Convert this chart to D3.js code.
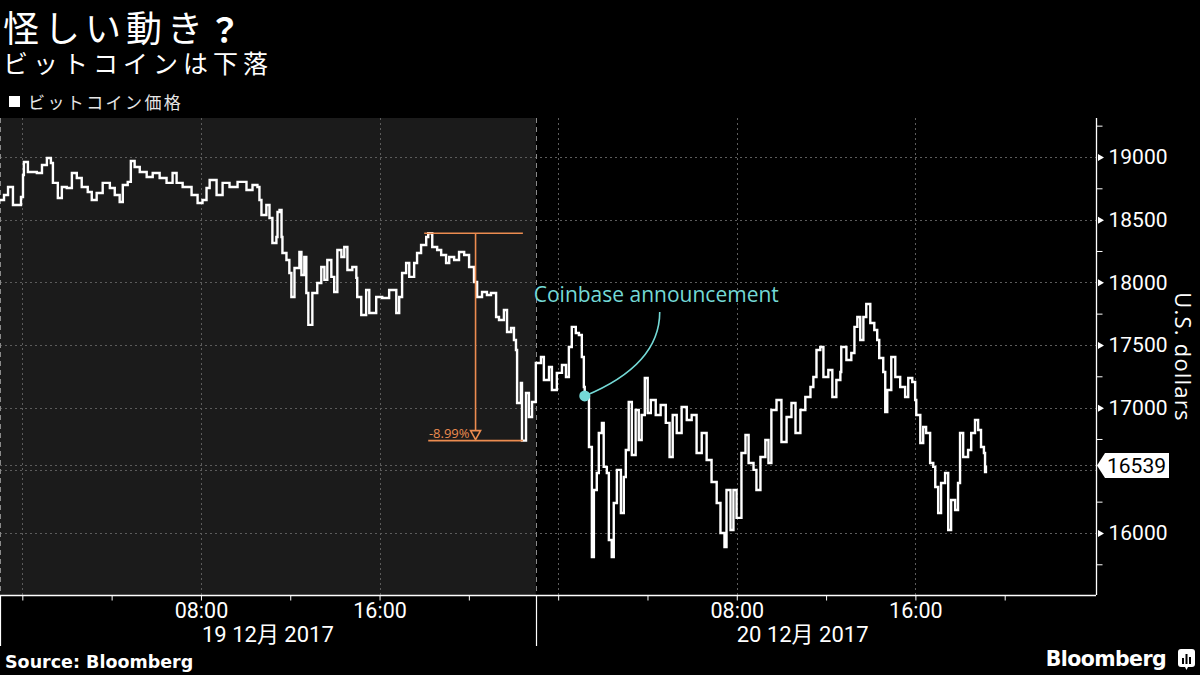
<!DOCTYPE html>
<html><head><meta charset="utf-8">
<script src="https://cdn.jsdelivr.net/npm/d3@7"></script>
<style>
html,body{margin:0;padding:0;background:#000;}
svg{display:block;}
</style></head><body>
<svg id="c" width="1200" height="675"></svg>
<script>
// ---- data (hours from 2017-12-19 00:00, price in USD) ----
const hours = [-1.00,-0.82,-0.64,-0.42,-0.20,-0.06,0.03,0.07,0.25,0.65,0.88,1.10,1.28,1.37,1.59,1.77,1.99,2.22,2.44,2.66,2.93,3.11,3.33,3.60,3.92,4.14,4.36,4.50,4.72,4.86,5.03,5.26,5.57,5.84,6.15,6.46,6.73,6.91,7.18,7.58,7.85,8.07,8.25,8.39,8.70,8.97,9.28,9.64,10.04,10.31,10.53,10.62,10.71,10.93,11.07,11.20,11.38,11.43,11.52,11.61,11.65,11.83,11.96,12.05,12.19,12.41,12.50,12.63,12.72,12.81,12.99,13.21,13.39,13.53,13.66,13.84,13.97,14.11,14.29,14.42,14.56,14.78,14.96,15.00,15.18,15.40,15.54,15.85,16.12,16.43,16.75,16.88,17.01,17.19,17.33,17.55,17.68,17.86,18.09,18.18,18.36,18.58,18.76,18.98,19.12,19.34,19.56,19.79,20.01,20.23,20.37,20.59,20.81,20.99,21.22,21.35,21.57,21.71,21.89,22.02,22.11,22.16,22.33,22.38,22.56,22.69,22.83,23.00,23.23,23.36,23.59,23.72,23.94,24.17,24.35,24.48,24.61,24.79,24.93,25.06,25.15,25.19,25.38,25.51,25.60,25.73,25.82,25.96,26.04,26.18,26.27,26.40,26.49,26.63,26.81,26.94,27.03,27.16,27.30,27.47,27.61,27.74,27.88,28.01,28.15,28.37,28.59,28.82,28.99,29.13,29.31,29.53,29.76,29.98,30.20,30.43,30.65,30.87,31.10,31.27,31.45,31.54,31.72,31.85,31.99,32.21,32.39,32.53,32.75,32.88,33.06,33.28,33.42,33.55,33.78,34.00,34.23,34.45,34.63,34.85,35.07,35.30,35.43,35.57,35.74,35.88,36.10,36.28,36.46,36.64,36.68,36.91,37.13,37.27,37.40,37.53,37.67,37.80,37.98,38.16,38.29,38.38,38.56,38.65,38.74,38.92,39.10,39.32,39.54,39.68,39.86,39.99,40.04,40.22,40.35,40.48,40.66,40.80,40.89,41.02,41.15,41.33,41.47,41.60,41.78,41.91,42.00,42.14,42.36,42.50,42.67,42.81,42.94,43.07,43.12,43.16];
const prices = [18657,18697,18761,18617,18617,18681,18856,18960,18880,18872,18936,18992,18952,18793,18673,18761,18753,18872,18832,18761,18721,18657,18713,18793,18753,18697,18641,18777,18801,18968,18920,18880,18840,18872,18832,18793,18872,18793,18761,18697,18633,18657,18753,18816,18697,18793,18761,18801,18737,18777,18761,18657,18537,18617,18513,18314,18362,18561,18577,18362,18234,18178,18074,17883,18114,18242,18058,18202,17915,17660,17915,17995,18122,18019,18178,18043,17923,18258,18202,18282,18098,18122,18035,17883,17739,17939,17755,17883,17875,17939,17755,17883,18074,18154,18043,18154,18234,18298,18362,18392,18282,18258,18218,18154,18202,18178,18242,18218,18122,18003,17883,17923,17899,17915,17723,17699,17779,17604,17636,17540,17460,17037,17197,16737,17117,16925,17045,17356,17404,17221,17324,17141,17277,17340,17245,17484,17644,17596,17580,17404,17165,17093,16686,15808,16343,16479,16798,16878,16527,16479,15944,15808,16239,16503,16159,16447,16662,17045,16622,16981,16742,16941,17237,16957,17061,16941,17021,16878,16606,16941,16798,17005,16901,16941,16638,16798,16582,16407,16239,16000,15888,16343,16024,16343,16120,16638,16782,16558,16503,16343,16606,16742,16558,16981,17061,16726,16925,17037,16798,16981,17085,17165,17245,17460,17484,17245,17300,17085,17221,17284,17484,17380,17436,17644,17723,17540,17723,17827,17675,17620,17540,17396,17284,16965,17141,17404,17245,17165,17085,17237,17205,17061,16941,16718,16846,16798,16558,16527,16367,16159,16399,16479,16024,16263,16183,16399,16798,16606,16662,16798,16901,16822,16686,16638,16487,16539];

const yTickValues = [16000,16500,17000,17500,18000,18500,19000];
const yTickLabels = ["16000","","17000","17500","18000","18500","19000"];
const yMinorValues = [15750,16250,16750,17250,17750,18250,18750,19250];
const xTickHours = [0,4,8,12,16,20,24,28,32,36,40,44];
const xTickLabels = ["","","08:00","","16:00","","","","08:00","","16:00",""];
const gridHours = [0,8,16,24,32,40];
const dayLabels = ["19 12月 2017","20 12月 2017"];
const dayLabelHours = [11.0, 34.95];
const lastPrice = 16539;
const dividerHour = 23;
const domainHours = [-1, 48];
const priceDomain = [15505, 19311];

const drawdownPrices = [18392, 16737];
const drawdownHours = [18.18, 22.42];
const drawdownLabel = "-8.99%";
const eventHour = 25.19;
const eventPrice = 17093;
const eventLabel = "Coinbase announcement";

const titleText = "怪しい動き";
const subtitleText = "ビットコインは下落";
const legendText = "ビットコイン価格";
const yTitle = "U.S. dollars";
const sourceText = "Source: Bloomberg";

// ---- scales ----
const base = Date.UTC(2017, 11, 19, 0, 0);
const toDate = h => new Date(base + h * 3600000);
const L = 0, R = 1094, T = 118, B = 595, AX = 1096;
const x = d3.scaleUtc().domain(domainHours.map(toDate)).range([L, R]);
const y = d3.scaleLinear().domain(priceDomain).range([B, T]);

const svg = d3.select("#c");
svg.append("rect").attr("width",1200).attr("height",675).attr("fill","#000");

// shaded first day
svg.append("rect").attr("x", L).attr("y", T)
  .attr("width", x(toDate(dividerHour)) - L).attr("height", B - T)
  .attr("fill", "#1b1b1b");

const CJK = "'Noto Sans CJK JP', sans-serif";
const NUM = "Roboto, 'Noto Sans CJK JP', sans-serif";

// titles
const t = svg.append("text").attr("x", 3).attr("y", 42)
  .attr("fill", "#fff").attr("font-family", CJK).attr("font-size", 36)
  .attr("letter-spacing", 5).text(titleText);
t.append("tspan").attr("font-weight", 700).attr("font-size", 33).text("？");
svg.append("text").attr("x", 3).attr("y", 73)
  .attr("fill", "#fff").attr("font-family", CJK).attr("font-size", 25)
  .attr("letter-spacing", 5).text(subtitleText);
svg.append("rect").attr("x", 9).attr("y", 96).attr("width", 11).attr("height", 11).attr("fill", "#fff");
svg.append("text").attr("x", 28).attr("y", 109)
  .attr("fill", "#e6e6e6").attr("font-family", CJK).attr("font-size", 17)
  .attr("letter-spacing", 2.4).text(legendText);

// horizontal gridlines
const gl = svg.append("g");
gl.selectAll("line.h").data(yTickValues.concat([lastPrice])).join("line")
  .attr("x1", L).attr("x2", AX).attr("y1", d => Math.round(y(d)) + 0.5).attr("y2", d => Math.round(y(d)) + 0.5)
  .attr("stroke", "#5c5c5c").attr("stroke-width", 1).attr("stroke-dasharray", "2,3");
// vertical gridlines
gl.selectAll("line.v").data(gridHours).join("line")
  .attr("x1", d => Math.round(x(toDate(d))) + 0.5).attr("x2", d => Math.round(x(toDate(d))) + 0.5)
  .attr("y1", T).attr("y2", B)
  .attr("stroke", "#5c5c5c").attr("stroke-width", 1).attr("stroke-dasharray", "2,3");
// left edge & day divider
const dx = Math.round(x(toDate(dividerHour))) + 0.5;
[0.5, dx].forEach(px => {
  svg.append("line").attr("x1", px).attr("x2", px).attr("y1", T).attr("y2", B)
    .attr("stroke", "#8a8a8a").attr("stroke-dasharray", "5,4");
  svg.append("line").attr("x1", px).attr("x2", px).attr("y1", B).attr("y2", 646)
    .attr("stroke", "#fff").attr("stroke-width", 1.2);
});

// x axis
const xAxis = d3.axisBottom(x).tickValues(xTickHours.map(toDate))
  .tickSize(5).tickSizeOuter(0).tickPadding(2)
  .tickFormat((d, i) => xTickLabels[i]);
const gx = svg.append("g").attr("transform", `translate(0,${B + 0.5})`).call(xAxis);
gx.select(".domain").attr("stroke", "#fff").attr("d", `M${L},0H${AX}`).attr("stroke-width", 1.3);
gx.selectAll(".tick line").attr("stroke", "#fff");
gx.selectAll("text").attr("fill", "#fff").attr("font-family", NUM).attr("font-size", 21.5);
svg.selectAll("text.day").data(dayLabels).join("text").attr("class", "day")
  .attr("x", (d, i) => x(toDate(dayLabelHours[i]))).attr("y", 642)
  .attr("text-anchor", "middle").attr("fill", "#fff")
  .attr("font-family", NUM).attr("font-size", 22).text(d => d);

// y axis
const gyMinor = svg.append("g").attr("transform", `translate(${AX + 0.5},0)`)
  .call(d3.axisRight(y).tickValues(yMinorValues).tickSize(6).tickSizeOuter(0).tickFormat(""));
gyMinor.select(".domain").attr("stroke", "#fff").attr("d", `M0,${T}V${B}`).attr("stroke-width", 1.3);
gyMinor.selectAll(".tick line").attr("stroke", "#fff");
const gy = svg.append("g").attr("transform", `translate(${AX + 0.5},0)`)
  .call(d3.axisRight(y).tickValues(yTickValues).tickSize(0).tickPadding(12)
    .tickFormat((d, i) => yTickLabels[i]));
gy.select(".domain").remove();
gy.selectAll("text").attr("fill", "#fff").attr("font-family", NUM).attr("font-size", 21);
gy.selectAll(".tick").filter((d, i) => yTickLabels[i] !== "").append("path")
  .attr("d", "M1.5,-3.5L7.5,0L1.5,3.5Z").attr("fill", "#fff");

// last price tag
const ly = y(lastPrice);
svg.append("path")
  .attr("d", `M${AX + 1},${ly}L${AX + 9},${ly - 12.5}H${AX + 73}V${ly + 12.5}H${AX + 9}Z`)
  .attr("fill", "#fff");
svg.append("text").attr("x", AX + 11).attr("y", ly).attr("dy", "0.36em")
  .attr("fill", "#000").attr("font-family", NUM).attr("font-size", 21).text(String(lastPrice));

// y title
svg.append("text").attr("transform", `translate(1175,357) rotate(90)`)
  .attr("text-anchor", "middle").attr("fill", "#fff")
  .attr("font-family", "'Open Sans', sans-serif").attr("font-size", 22)
  .attr("letter-spacing", 1.2).text(yTitle);

// price line
const pts = hours.map((h, i) => [toDate(h), prices[i]]);
svg.append("path").datum(pts)
  .attr("d", d3.line().curve(d3.curveStepAfter).x(d => x(d[0])).y(d => y(d[1])))
  .attr("fill", "none").attr("stroke", "#fff").attr("stroke-width", 2.4)
  .attr("stroke-linejoin", "miter");

// drawdown annotation
const OR = "#ec8c50";
const ax0 = x(toDate(drawdownHours[0])), ax1 = x(toDate(drawdownHours[1]));
const axm = (ax0 + ax1) / 2;
const yHi = y(drawdownPrices[0]), yLo = y(drawdownPrices[1]);
const ga = svg.append("g").attr("stroke", OR).attr("stroke-width", 1.6).attr("fill", "none");
ga.append("line").attr("x1", ax0 - 4).attr("x2", ax1).attr("y1", yHi).attr("y2", yHi);
ga.append("line").attr("x1", ax0).attr("x2", ax1).attr("y1", yLo).attr("y2", yLo);
ga.append("line").attr("x1", axm).attr("x2", axm).attr("y1", yHi).attr("y2", yLo - 10);
ga.append("path").attr("d", `M${axm - 5},${yLo - 10}H${axm + 5}L${axm},${yLo - 1}Z`);
svg.append("text").attr("x", axm - 6).attr("y", yLo - 3).attr("text-anchor", "end")
  .attr("fill", OR).attr("font-family", "'Open Sans', sans-serif").attr("font-size", 13)
  .text(drawdownLabel);

// event annotation
const CY = "#74d9d6";
const ex = x(toDate(eventHour)), ey = y(eventPrice);
const lx = ex + 75, lyTop = ey - 84;
svg.append("path").attr("d", `M${ex},${ey}Q${lx},${ey - 31} ${lx},${lyTop}`)
  .attr("fill", "none").attr("stroke", CY).attr("stroke-width", 1.6);
svg.append("circle").attr("cx", ex).attr("cy", ey).attr("r", 5.5).attr("fill", CY);
svg.append("text").attr("x", ex - 51).attr("y", ey - 94)
  .attr("fill", CY).attr("font-family", "'Open Sans', sans-serif").attr("font-size", 21)
  .text(eventLabel);

// footer
svg.append("text").attr("x", 5).attr("y", 668).attr("fill", "#fff")
  .attr("font-family", "'DejaVu Sans', sans-serif").attr("font-weight", 700).attr("font-size", 17.5)
  .text(sourceText);
svg.append("text").attr("x", 1166).attr("y", 666).attr("text-anchor", "end").attr("fill", "#fff")
  .attr("font-family", "'DejaVu Sans', sans-serif").attr("font-weight", 700).attr("font-size", 20.5)
  .attr("letter-spacing", -0.6).text("Bloomberg");
const lg = svg.append("g").attr("transform", "translate(1178,649)");
lg.append("rect").attr("width", 17).attr("height", 18).attr("rx", 3).attr("fill", "#fff");
lg.append("path").attr("d", "M7,18L8.5,21L10,18Z").attr("fill", "#fff");
[[4,9,2,6],[7.5,5,2,10],[11,8,2,7]].forEach(b =>
  lg.append("rect").attr("x", b[0]).attr("y", b[1]).attr("width", b[2]).attr("height", b[3]).attr("fill", "#000"));
</script>
</body></html>
